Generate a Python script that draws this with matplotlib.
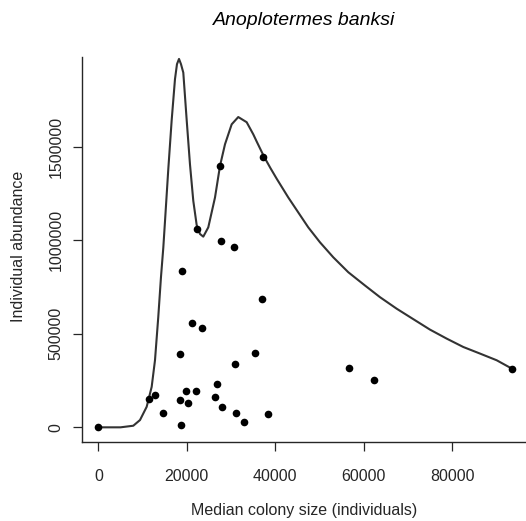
import matplotlib
matplotlib.use("Agg")
import matplotlib.pyplot as plt

# ── points (median colony size, individual abundance) ──
colony_size = [0, 11440, 12730, 14540, 18830, 18450, 18450, 18680, 19810, 20190,
               21100, 22000, 23360, 26370, 26820, 27950, 30890, 31110, 32850, 35410,
               36990, 38350, 56660, 62390, 93450, 22220, 27500, 27720, 30660, 37220]
abundance = [0, 149100, 173600, 74500, 833900, 391900, 147000, 13800, 194900, 131000,
             557000, 194900, 528700, 162900, 232200, 109700, 338700, 77700, 29800, 397200,
             683200, 72400, 317400, 253500, 312000, 1061200, 1396700, 993600, 965400, 1444600]

# ── fitted curve ──
curve_x = [0, 5000, 7890, 9410, 10920, 12050, 12800, 13540, 14150, 14680, 15060,
           15810, 16570, 17320, 17770, 18230, 18680, 19200, 19970, 20710, 21460,
           22230, 22970, 23720, 24850, 26370, 27500, 28630, 30140, 31630, 33530,
           35030, 35790, 37450, 38900, 40320, 42940, 45200, 47460, 50110, 53110, 56510,
           60280, 63670, 67450, 71200, 74980, 78760, 82510, 86290, 90060, 93450]
curve_y = [0, 0, 8500, 38900, 109700, 216200, 358400, 588900, 801900, 960000, 1100000,
           1380000, 1640000, 1860000, 1940000, 1968000, 1940000, 1895000, 1640000, 1405000, 1210000,
           1080000, 1033000, 1018600, 1068200, 1227900, 1396700, 1512200, 1618700, 1657600, 1630000,
           1565000, 1527000, 1446200, 1385000, 1328000, 1227900, 1148000, 1068200, 988300, 908400, 828500,
           757700, 695400, 633700, 578000, 522000, 473900, 429200, 394000, 358300, 314200]

x_ticks = [0, 20000, 40000, 60000, 80000]
y_ticks = [0, 500000, 1000000, 1500000]

INK = "#262626"
FONT = "Liberation Sans"

fig = plt.figure(figsize=(5.26, 5.21), dpi=100, facecolor="white")
ax = fig.add_axes([0.1553, 0.1511, 0.8572, 0.7401])

ax.plot(curve_x, curve_y, color="#333333", linewidth=1.5, solid_joinstyle="round")
ax.plot(colony_size, abundance, "o", color="black", markersize=5.5, markeredgewidth=0)

ax.set_xlim(-3776, 98180)
ax.set_ylim(-79870, 1980000)

for s in ["top", "right"]:
    ax.spines[s].set_visible(False)
for s in ["left", "bottom"]:
    ax.spines[s].set_color(INK)
    ax.spines[s].set_linewidth(1.0)

ax.set_xticks(x_ticks)
ax.set_xticklabels([str(v) for v in x_ticks], fontfamily=FONT, fontsize=11.5, color=INK)
ax.set_yticks(y_ticks)
ax.set_yticklabels([str(v) for v in y_ticks], fontfamily=FONT, fontsize=11.5, color=INK,
                   rotation=90, va="center")
ax.tick_params(direction="out", length=6.5, width=0.9, color=INK)
ax.tick_params(axis="x", pad=12.5)
ax.tick_params(axis="y", pad=6.6)

ax.set_xlabel("Median colony size (individuals)", fontfamily=FONT, fontsize=11.5,
              color=INK, va="center")
ax.xaxis.set_label_coords(0.493, -0.178)
ax.set_ylabel("Individual abundance", fontfamily=FONT, fontsize=11.5,
              color=INK, va="center")
ax.yaxis.set_label_coords(-0.1406, 0.509)

ax.text(0.493, 1.095, "Anoplotermes banksi", transform=ax.transAxes, ha="center",
        va="center", fontfamily=FONT, fontsize=14, style="italic", color="black")

fig.savefig("out.png", dpi=100, facecolor="white")
